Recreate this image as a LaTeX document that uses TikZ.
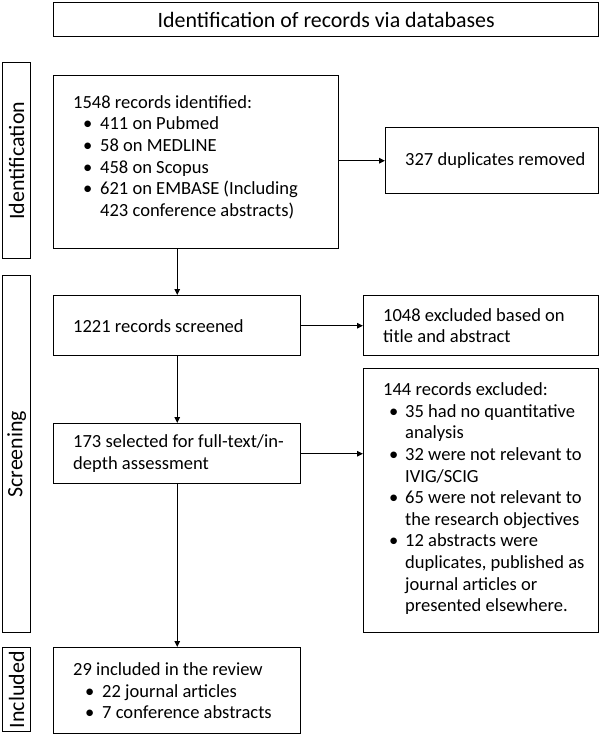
\documentclass[tikz,border=0pt]{standalone}
\usepackage{fontspec}
\setmainfont{Carlito}
\usetikzlibrary{arrows.meta, positioning}

\newcommand{\ibul}[2]{\hspace*{#1}\makebox[#2][l]{\textbullet}}

\begin{document}
\begin{tikzpicture}[
    x=1bp, y=-1bp,
    box/.style={rectangle, draw, line width=1.4bp, anchor=north west, inner sep=0pt},
    side/.style={box, minimum width=28bp},
    txt/.style={anchor=west, align=left, inner sep=0pt, font=\fontsize{18.6}{21.7}\selectfont},
    big/.style={txt, anchor=center, font=\fontsize{22}{26}\selectfont},
    vtxt/.style={big, rotate=90},
    arr/.style={-{Triangle[length=6bp,width=5.5bp]}, line width=1.3bp},
]
\useasboundingbox (0,0) rectangle (600,737);

\node[box, minimum width=545bp, minimum height=34bp] (ttl) at (53,2) {};
\node[big] at (ttl.center) {Identification of records via databases};

\node[side, minimum height=196bp] (idbar)  at (2,62)  {};
\node[side, minimum height=357bp] (scrbar) at (2,275) {};
\node[side, minimum height=84bp]  (incbar) at (2,647) {};
\node[vtxt] at (idbar.center)  {Identification};
\node[vtxt] at (scrbar.center) {Screening};
\node[vtxt] at (incbar.center) {Included};

\node[box, minimum width=285bp, minimum height=173bp] (rec)  at (53,75)   {};
\node[box, minimum width=213bp, minimum height=66bp]  (dup)  at (385,127) {};
\node[box, minimum width=247bp, minimum height=60bp]  (scr)  at (53,295)  {};
\node[box, minimum width=235bp, minimum height=60bp]  (exa)  at (363,295) {};
\node[box, minimum width=247bp, minimum height=60bp]  (full) at (53,423)  {};
\node[box, minimum width=235bp, minimum height=264bp] (exb)  at (363,368) {};
\node[box, minimum width=247bp, minimum height=86bp]  (inc)  at (53,647)  {};

\node[txt] (rectxt) at ([xshift=20bp,yshift=5bp]rec.west)
    {1548 records identified:\\
     \ibul{10bp}{17bp}411 on Pubmed\\
     \ibul{10bp}{17bp}58 on MEDLINE\\
     \ibul{10bp}{17bp}458 on Scopus\\
     \ibul{10bp}{17bp}621 on EMBASE (Including\\
     \hspace*{27bp}423 conference abstracts)};
\node[txt] (duptxt) at ([xshift=20bp]dup.west) {327 duplicates removed};
\node[txt] (scrtxt) at ([xshift=20bp]scr.west) {1221 records screened};
\node[txt] (exatxt) at ([xshift=20bp]exa.west) {1048 excluded based on\\ title and abstract};
\node[txt] (fulltxt) at ([xshift=20bp]full.west) {173 selected for full-text/in-\\ depth assessment};
\node[txt] (exbtxt) at ([xshift=20bp,yshift=2bp]exb.west)
    {144 records excluded:\\
     \ibul{6bp}{16bp}35 had no quantitative\\
     \hspace*{22bp}analysis\\
     \ibul{6bp}{16bp}32 were not relevant to\\
     \hspace*{22bp}IVIG/SCIG\\
     \ibul{6bp}{16bp}65 were not relevant to\\
     \hspace*{22bp}the research objectives\\
     \ibul{6bp}{16bp}12 abstracts were\\
     \hspace*{22bp}duplicates, published as\\
     \hspace*{22bp}journal articles or\\
     \hspace*{22bp}presented elsewhere.};
\node[txt] (inctxt) at ([xshift=20bp]inc.west)
    {29 included in the review\\
     \ibul{12bp}{17bp}22 journal articles\\
     \ibul{12bp}{17bp}7 conference abstracts};

\draw[arr] (rec.east |- dup.west) -- (dup.west);
\draw[arr] (scr.north |- rec.south) -- (scr.north);
\draw[arr] (scr) -- (exa);
\draw[arr] (scr) -- (full);
\draw[arr] (full.east) -- (full.east -| exb.west);
\draw[arr] (full) -- (inc);

\end{tikzpicture}
\end{document}
